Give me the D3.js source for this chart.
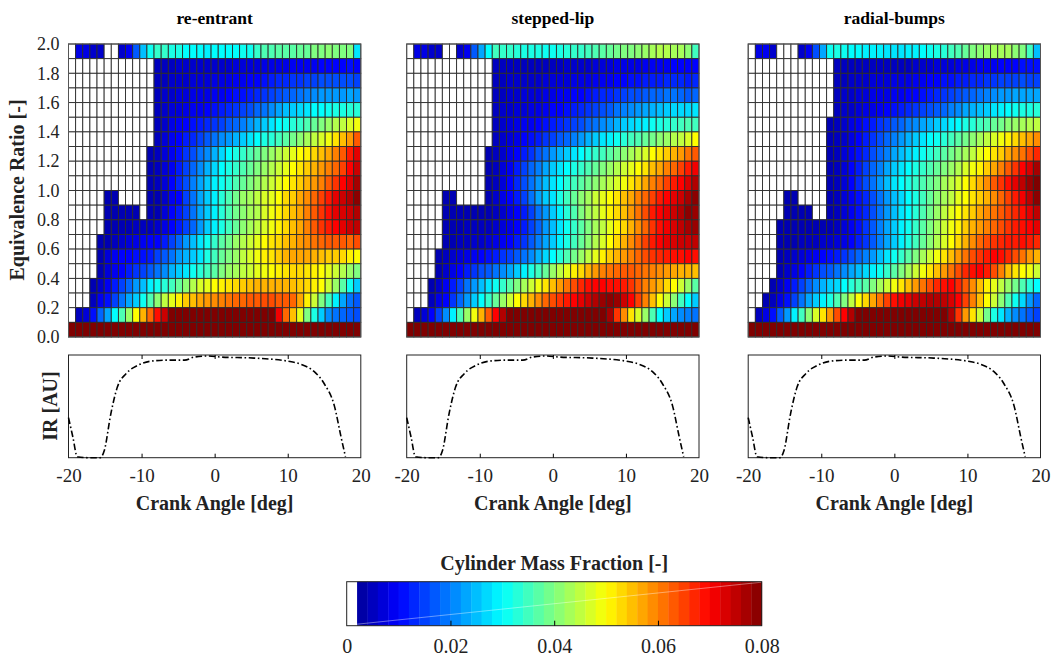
<!DOCTYPE html>
<html>
<head>
<meta charset="utf-8">
<script src="https://cdn.jsdelivr.net/npm/d3@7"></script>
<style>
  body { margin: 0; background: #fff; }
</style>
</head>
<body>
<div id="app"></div>
<script>
// crank angle cells (deg) and lower edges of the equivalence ratio bins
const crankAngles = [-20,-19,-18,-17,-16,-15,-14,-13,-12,-11,-10,-9,-8,-7,-6,-5,-4,-3,-2,-1,0,1,2,3,4,5,6,7,8,9,10,11,12,13,14,15,16,17,18,19,20];
const phiLower = [1.9,1.8,1.7,1.6,1.5,1.4,1.3,1.2,1.1,1.0,0.9,0.8,0.7,0.6,0.5,0.4,0.3,0.2,0.1,0.0];
const phiTicks = [0,0.2,0.4,0.6,0.8,1.0,1.2,1.4,1.6,1.8,2.0];
const crankTicks = [-20,-10,0,10,20];
const cbTicks = [0,0.02,0.04,0.06,0.08];
const panelTitles = ["re-entrant","stepped-lip","radial-bumps"];

// cylinder mass fraction in 1e-3 units, top row = phi 1.9-2.0 (0 = below colour range, white)
const reEntrant = [
  [0,8,8,6,6,0,0,6,9,17,25,31,34,34,32,32,30,30,30,29,30,30,30,30,31,31,34,36,36,37,37,37,38,38,40,40,41,40,40,40,28],
  [0,0,0,0,0,0,0,0,0,0,0,0,5,5,5,6,6,6,6,6,6,6,6,7,7,7,7,8,8,8,8,9,9,9,9,10,10,10,10,11,10],
  [0,0,0,0,0,0,0,0,0,0,0,0,5,5,6,6,6,7,7,7,8,8,8,9,9,10,10,11,12,13,13,14,14,15,15,16,16,16,16,16,15],
  [0,0,0,0,0,0,0,0,0,0,0,0,5,6,6,7,7,8,8,8,9,9,10,11,11,12,13,14,15,16,17,18,19,20,21,22,22,22,22,23,22],
  [0,0,0,0,0,0,0,0,0,0,0,0,5,6,7,7,8,9,9,10,11,12,13,14,15,16,18,19,21,23,25,26,27,28,30,30,31,32,32,33,33],
  [0,0,0,0,0,0,0,0,0,0,0,0,5,6,8,9,10,11,12,13,14,15,17,18,20,22,24,26,28,30,31,33,34,36,38,40,42,44,45,47,49],
  [0,0,0,0,0,0,0,0,0,0,0,0,5,7,9,10,12,13,15,17,19,21,22,24,26,28,30,32,33,35,37,39,41,43,45,47,49,52,55,58,63],
  [0,0,0,0,0,0,0,0,0,0,0,4,5,7,9,11,14,16,19,21,24,27,30,32,34,36,38,40,42,44,46,48,50,51,53,55,57,60,63,68,72],
  [0,0,0,0,0,0,0,0,0,0,0,4,5,7,9,12,15,18,21,24,27,30,32,34,36,38,40,42,44,46,48,50,52,54,56,58,60,62,65,70,74],
  [0,0,0,0,0,0,0,0,0,0,0,4,5,7,10,13,16,20,23,26,29,31,33,36,38,40,42,44,46,48,50,52,54,56,58,60,63,66,70,73,77],
  [0,0,0,0,0,4,4,0,0,0,0,4,4,6,9,10,15,19,23,26,29,33,36,39,42,43,45,47,48,50,53,54,57,59,62,65,68,72,74,76,79],
  [0,0,0,0,0,4,4,4,4,4,0,4,4,7,10,12,15,19,23,26,29,33,36,39,41,43,44,47,49,51,53,55,57,60,63,66,69,72,73,74,76],
  [0,0,0,0,0,4,4,4,4,5,5,5,6,8,10,12,15,18,22,26,29,32,35,38,41,43,45,47,49,51,53,55,57,60,63,66,68,70,72,74,75],
  [0,0,0,0,4,4,5,6,7,8,9,10,10,12,15,18,22,25,28,31,34,37,39,42,44,46,48,50,52,53,55,56,58,59,61,62,63,63,63,62,64],
  [0,0,0,0,4,7,9,10,10,11,11,12,15,17,19,22,24,26,28,32,35,38,40,42,45,47,49,51,52,54,56,57,57,57,56,55,54,54,53,51,50],
  [0,0,0,0,4,7,9,10,12,14,15,17,19,21,24,26,28,31,33,35,37,40,42,43,45,46,48,49,50,51,52,53,53,52,51,50,48,46,44,42,40],
  [0,0,0,4,6,9,12,15,18,22,25,29,31,33,35,38,41,44,47,48,50,51,52,53,54,55,56,56,56,56,56,55,54,53,51,50,46,42,37,31,26],
  [0,0,0,5,9,11,15,19,23,26,31,36,41,45,48,51,54,55,57,58,59,60,61,62,62,63,63,64,64,63,63,62,57,51,46,40,35,29,23,19,17],
  [0,5,7,11,18,23,30,36,42,50,56,62,69,74,80,80,80,80,80,80,80,80,80,80,80,80,80,80,80,71,62,55,48,40,32,26,21,19,18,17,16],
  [80,80,80,80,80,80,80,80,80,80,80,80,80,80,80,80,80,80,80,80,80,80,80,80,80,80,80,80,80,80,80,80,80,80,80,80,80,80,80,80,80]
];

const steppedLip = [
  [0,8,8,6,6,0,0,6,9,17,23,30,35,34,34,33,32,32,32,31,31,32,33,34,34,35,36,37,38,39,40,40,41,42,43,44,44,43,43,41,35],
  [0,0,0,0,0,0,0,0,0,0,0,0,5,5,5,5,5,5,5,5,5,5,6,6,6,6,7,7,7,8,8,8,8,9,9,9,9,10,10,10,10],
  [0,0,0,0,0,0,0,0,0,0,0,0,5,5,6,6,6,6,6,7,7,7,7,8,8,8,9,9,9,10,10,11,11,12,12,12,13,13,13,12,13],
  [0,0,0,0,0,0,0,0,0,0,0,0,5,5,6,6,7,7,7,8,8,9,9,10,10,11,12,13,13,14,15,16,16,17,18,18,19,19,18,17,18],
  [0,0,0,0,0,0,0,0,0,0,0,0,5,6,6,7,7,8,8,9,10,10,11,12,13,14,15,16,17,19,20,21,22,23,24,25,26,27,27,27,28],
  [0,0,0,0,0,0,0,0,0,0,0,0,5,6,7,8,9,9,10,11,12,13,14,15,16,18,19,21,22,24,26,27,28,29,31,32,33,34,35,36,35],
  [0,0,0,0,0,0,0,0,0,0,0,0,5,6,7,8,10,11,12,14,15,17,18,20,22,24,26,28,29,31,33,35,36,38,39,41,42,44,45,47,50],
  [0,0,0,0,0,0,0,0,0,0,0,4,5,6,8,10,12,14,17,19,22,24,26,28,30,32,34,35,37,39,41,43,45,47,50,52,54,56,58,61,63],
  [0,0,0,0,0,0,0,0,0,0,0,4,5,7,9,12,15,18,20,23,26,28,30,32,34,36,38,40,42,44,46,48,50,52,55,57,60,62,65,68,71],
  [0,0,0,0,0,0,0,0,0,0,0,4,5,7,10,13,16,19,22,25,28,30,33,35,37,39,41,43,45,47,49,52,54,57,60,62,65,68,70,73,76],
  [0,0,0,0,0,4,4,0,0,0,0,4,6,8,10,12,15,19,23,26,28,32,35,38,41,43,46,48,50,52,55,57,60,62,65,68,70,72,74,77,79],
  [0,0,0,0,0,4,4,4,4,4,4,4,5,6,8,10,12,15,19,22,26,29,33,36,40,43,45,48,51,53,55,58,61,64,68,70,72,74,76,79,78],
  [0,0,0,0,0,4,4,4,5,5,5,5,6,7,8,10,12,15,18,22,25,28,31,34,37,40,43,45,48,51,53,56,59,62,66,69,71,73,75,77,78],
  [0,0,0,0,0,4,4,5,5,6,6,7,8,9,10,12,14,17,20,23,26,29,32,35,38,41,44,47,50,53,56,59,62,65,68,70,72,73,74,74,75],
  [0,0,0,0,4,5,6,7,8,9,10,11,12,14,15,17,19,21,24,27,30,33,36,39,42,45,48,51,54,56,58,60,62,64,66,67,68,69,69,70,69],
  [0,0,0,0,4,6,8,10,12,14,16,17,19,21,23,26,29,32,35,38,42,45,48,51,53,56,58,60,61,62,63,63,62,61,60,59,58,57,56,56,55],
  [0,0,0,4,6,9,12,15,19,22,25,28,31,34,37,40,43,46,49,52,55,58,61,64,67,69,70,70,69,69,68,66,63,60,58,56,53,50,46,42,37],
  [0,0,0,5,8,10,14,18,22,26,30,34,38,42,46,50,53,56,59,62,64,66,68,70,72,74,76,78,79,78,74,70,65,60,55,50,46,41,35,30,26],
  [0,5,7,10,15,21,29,36,42,49,56,63,70,76,80,80,80,80,80,80,80,80,80,80,80,80,80,80,77,66,59,52,47,42,36,30,26,23,21,20,19],
  [80,80,80,80,80,80,80,80,80,80,80,80,80,80,80,80,80,80,80,80,80,80,80,80,80,80,80,80,80,80,80,80,80,80,80,80,80,80,80,80,80]
];

const radialBumps = [
  [0,8,9,6,0,0,0,6,9,16,23,31,32,31,30,30,29,29,29,28,28,28,29,29,30,31,32,33,35,36,38,40,41,42,43,43,43,41,40,35,25],
  [0,0,0,0,0,0,0,0,0,0,0,0,5,5,5,5,5,5,5,5,5,5,5,6,6,6,7,7,7,8,8,8,9,9,9,10,10,10,11,11,11],
  [0,0,0,0,0,0,0,0,0,0,0,0,5,5,6,6,6,7,7,7,8,8,8,9,9,10,10,11,11,12,12,13,13,14,14,15,15,15,16,15,15],
  [0,0,0,0,0,0,0,0,0,0,0,0,5,6,6,7,7,8,8,8,9,9,10,10,11,12,13,14,15,16,17,18,19,20,21,22,22,23,23,23,23],
  [0,0,0,0,0,0,0,0,0,0,0,0,5,6,6,7,8,8,9,10,11,12,13,14,15,16,17,18,20,21,23,24,25,26,28,29,30,31,32,32,33],
  [0,0,0,0,0,0,0,0,0,0,0,4,5,6,8,9,11,12,14,15,17,18,20,21,23,24,26,27,29,30,32,33,35,36,38,39,41,42,43,44,45],
  [0,0,0,0,0,0,0,0,0,0,0,4,5,6,8,10,12,14,16,18,20,22,24,26,28,30,31,33,35,37,39,41,43,45,47,49,51,53,55,57,59],
  [0,0,0,0,0,0,0,0,0,0,0,4,5,7,9,11,13,16,18,20,23,25,27,29,31,33,35,37,39,41,43,45,48,50,52,54,57,59,61,64,67],
  [0,0,0,0,0,0,0,0,0,0,0,4,5,7,10,12,15,18,20,23,26,28,30,32,34,36,38,40,42,44,47,49,51,54,57,60,63,66,70,73,77],
  [0,0,0,0,0,0,0,0,0,0,0,4,5,7,10,13,16,19,22,25,28,30,32,34,36,38,40,43,45,47,50,53,56,59,63,66,69,72,75,78,80],
  [0,0,0,0,0,4,4,0,0,0,0,4,5,7,9,11,13,16,19,22,25,27,30,32,35,38,41,43,45,48,50,52,54,56,59,62,65,68,71,75,79],
  [0,0,0,0,0,4,4,4,4,0,0,4,5,7,9,11,13,16,19,22,25,28,30,33,36,39,42,45,48,50,52,54,57,59,61,63,65,67,69,72,75],
  [0,0,0,0,4,4,4,4,4,4,4,4,5,7,9,11,14,17,20,23,26,29,31,34,37,40,43,46,49,51,54,56,58,60,62,64,66,68,69,70,72],
  [0,0,0,0,4,4,4,5,5,5,6,6,7,8,10,12,14,17,20,23,26,29,32,35,38,41,44,47,50,53,56,59,62,64,66,67,68,68,69,68,67],
  [0,0,0,0,4,5,6,7,8,9,10,11,12,14,16,18,20,22,25,28,31,34,37,40,43,46,49,52,55,58,61,64,66,68,70,69,67,64,61,58,56],
  [0,0,0,0,4,6,8,10,12,14,16,17,19,21,23,25,27,29,31,34,37,40,43,46,49,52,55,58,61,64,67,69,70,68,64,60,55,52,50,49,46],
  [0,0,0,4,6,9,12,15,18,21,24,26,27,30,33,35,37,40,43,46,49,52,55,58,61,64,67,69,70,67,63,59,55,51,48,45,42,39,36,33,30],
  [0,0,4,5,8,11,15,19,23,26,29,32,36,40,45,50,53,57,61,65,69,71,72,74,75,76,76,75,73,70,65,60,55,50,46,41,36,31,27,22,18],
  [0,5,8,11,17,22,29,35,41,47,52,58,64,70,76,80,80,80,80,80,80,80,80,80,80,80,80,80,76,66,58,52,46,39,32,28,24,21,19,17,15],
  [80,80,80,80,80,80,80,80,80,80,80,80,80,80,80,80,80,80,80,80,80,80,80,80,80,80,80,80,80,80,80,80,80,80,80,80,80,80,80,80,80]
];

// IR trace (normalised), same shape under each panel
const irAngle  = [-20,-19.4,-18.8,-17.2,-15.7,-15.1,-14.2,-13.3,-12.1,-10.5,-8.7,-6.4,-4.1,-2.8,-1.0,0.9,5.4,10.0,11.8,13.6,15.0,16.4,17.3,17.9];
const irSignal = [0.39,0.2,0.01,0,0,0.07,0.43,0.69,0.82,0.9,0.94,0.95,0.95,0.98,0.99,0.98,0.97,0.94,0.91,0.84,0.72,0.5,0.2,0.01];

const grids = [reEntrant, steppedLip, radialBumps];
const panelX = [68.5, 406.7, 748.2];
const panelW = 292.3;
const mapTop = 44, mapBottom = 337;
const irTop = 355, irBottom = 457.7;
const font = "'Liberation Serif','Times New Roman',serif";

function jet(t) {
  const c = v => Math.max(0, Math.min(1, v));
  return d3.rgb(255 * c(1.5 - Math.abs(4 * t - 3)),
                255 * c(1.5 - Math.abs(4 * t - 2)),
                255 * c(1.5 - Math.abs(4 * t - 1))).toString();
}
const color = d3.scaleSequential(jet).domain([0, 80]).clamp(true);
const fill = v => (v < 2 ? "#ffffff" : color(v));
const plain = d => String(d);

const svg = d3.select("#app").append("svg")
  .attr("width", 1054)
  .attr("height", 656)
  .style("font-family", font);

const yPhi = d3.scaleLinear().domain([0, 2]).range([mapBottom, mapTop]);
const yIR = d3.scaleLinear().domain([0, 1]).range([irBottom, irTop]);

grids.forEach((grid, p) => {
  const x0 = panelX[p];
  const xCell = d3.scaleBand().domain(crankAngles).range([x0, x0 + panelW]);
  const xLine = d3.scaleLinear().domain([-20, 20]).range([x0, x0 + panelW]);

  // heat map cells
  const map = svg.append("g");
  grid.forEach((row, i) => {
    const top = yPhi(phiLower[i] + 0.1);
    const h = yPhi(phiLower[i]) - top;
    map.selectAll(null)
      .data(row)
      .join("rect")
      .attr("x", (d, j) => xCell(crankAngles[j]))
      .attr("y", top)
      .attr("width", xCell.bandwidth())
      .attr("height", h)
      .attr("fill", d => fill(d))
      .attr("stroke", "#2c2c2c")
      .attr("stroke-width", 0.9);
  });
  map.append("rect")
    .attr("x", x0).attr("y", mapTop)
    .attr("width", panelW).attr("height", mapBottom - mapTop)
    .attr("fill", "none").attr("stroke", "#555").attr("stroke-width", 1);

  // title
  svg.append("text")
    .attr("x", x0 + panelW / 2)
    .attr("y", 24)
    .attr("text-anchor", "middle")
    .attr("font-weight", "bold")
    .attr("font-size", 17.5)
    .text(panelTitles[p]);

  // y axis only on the first panel
  if (p === 0) {
    const ay = svg.append("g")
      .attr("transform", `translate(${x0},0)`)
      .call(d3.axisLeft(yPhi).tickValues(phiTicks).tickFormat(d3.format(".1f")).tickSize(0).tickPadding(9));
    ay.select(".domain").remove();
    ay.selectAll("text").attr("font-family", font).attr("font-size", 18).attr("fill", "#222");
  }

  // IR trace
  const ir = svg.append("g");
  ir.append("rect")
    .attr("x", x0).attr("y", irTop)
    .attr("width", panelW).attr("height", irBottom - irTop)
    .attr("fill", "#fff").attr("stroke", "#222").attr("stroke-width", 1);

  const line = d3.line()
    .x((d, k) => xLine(irAngle[k]))
    .y(d => yIR(d))
    .curve(d3.curveMonotoneX);
  ir.append("path")
    .attr("d", line(irSignal))
    .attr("fill", "none")
    .attr("stroke", "#000")
    .attr("stroke-width", 1.6)
    .attr("stroke-dasharray", "6.5,2.6,1.6,2.6");

  const ax = ir.append("g")
    .attr("transform", `translate(0,${irBottom})`)
    .call(d3.axisBottom(xLine).tickValues(crankTicks).tickFormat(plain).tickSize(0).tickPadding(11));
  ax.select(".domain").remove();
  ax.selectAll("text").attr("font-family", font).attr("font-size", 19).attr("fill", "#222");

  ir.append("g")
    .attr("transform", `translate(0,${irBottom})`)
    .call(d3.axisBottom(xLine).tickValues([-10, 0, 10]).tickSize(-4).tickFormat(""))
    .call(g => g.select(".domain").remove());
  ir.append("g")
    .attr("transform", `translate(0,${irTop})`)
    .call(d3.axisTop(xLine).tickValues([-10, 0, 10]).tickSize(-4).tickFormat(""))
    .call(g => g.select(".domain").remove());

  svg.append("text")
    .attr("x", x0 + panelW / 2)
    .attr("y", 510)
    .attr("text-anchor", "middle")
    .attr("font-weight", "bold")
    .attr("font-size", 20)
    .attr("fill", "#222")
    .text("Crank Angle [deg]");
});

// axis titles on the left
svg.append("text")
  .attr("transform", "translate(24,190) rotate(-90)")
  .attr("text-anchor", "middle")
  .attr("font-weight", "bold")
  .attr("font-size", 20)
  .attr("fill", "#222")
  .text("Equivalence Ratio [-]");

svg.append("text")
  .attr("transform", "translate(57,406) rotate(-90)")
  .attr("text-anchor", "middle")
  .attr("font-weight", "bold")
  .attr("font-size", 20)
  .attr("fill", "#222")
  .text("IR [AU]");

// colour bar
const cbX = d3.scaleLinear().domain([0, 0.08]).range([346.7, 761.7]);
const cbTop = 581.7, cbBottom = 625.7;
const cb = svg.append("g");
const bands = d3.range(40);
cb.selectAll("rect.band")
  .data(bands)
  .join("rect")
  .attr("class", "band")
  .attr("x", i => cbX(i * 0.002))
  .attr("y", cbTop)
  .attr("width", cbX(0.002) - cbX(0) + 0.4)
  .attr("height", cbBottom - cbTop)
  .attr("fill", i => fill(2 * i + 1));
cb.append("line")
  .attr("x1", cbX(0.002)).attr("y1", cbBottom - 1.5)
  .attr("x2", cbX(0.08)).attr("y2", cbTop + 0.5)
  .attr("stroke", "#fff").attr("stroke-opacity", 0.5).attr("stroke-width", 0.8);
cb.append("rect")
  .attr("x", cbX(0)).attr("y", cbTop)
  .attr("width", cbX(0.08) - cbX(0)).attr("height", cbBottom - cbTop)
  .attr("fill", "none").attr("stroke", "#222").attr("stroke-width", 1);

const acb = cb.append("g")
  .attr("transform", `translate(0,${cbBottom})`)
  .call(d3.axisBottom(cbX).tickValues(cbTicks)
    .tickFormat(d => (d === 0 ? "0" : d3.format(".2f")(d))).tickSize(0).tickPadding(13));
acb.select(".domain").remove();
acb.selectAll("text").attr("font-family", font).attr("font-size", 20).attr("fill", "#222");
cb.append("g")
  .attr("transform", `translate(0,${cbBottom})`)
  .call(d3.axisBottom(cbX).tickValues([0.02, 0.04, 0.06]).tickSize(-5).tickFormat(""))
  .call(g => g.select(".domain").remove());

svg.append("text")
  .attr("x", cbX(0.04))
  .attr("y", 570)
  .attr("text-anchor", "middle")
  .attr("font-weight", "bold")
  .attr("font-size", 20)
  .attr("fill", "#222")
  .text("Cylinder Mass Fraction [-]");
</script>
</body>
</html>
